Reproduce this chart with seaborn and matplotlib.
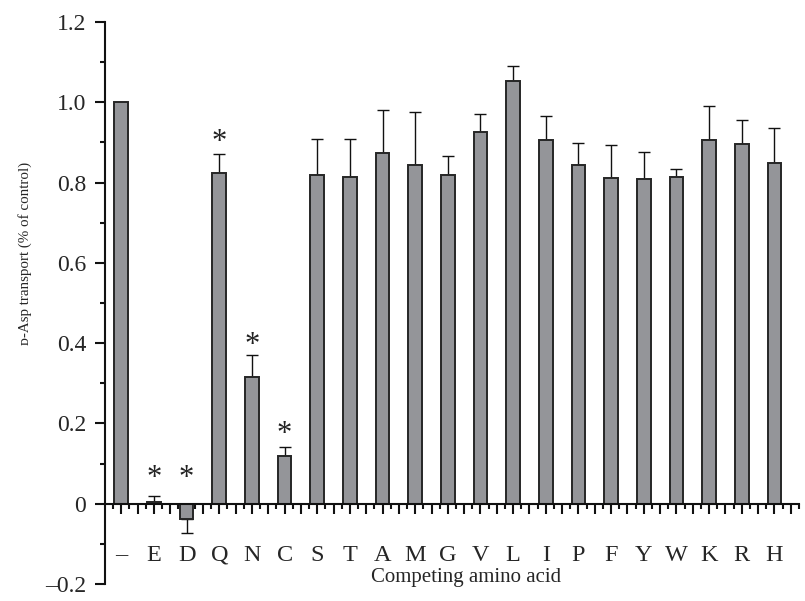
import matplotlib
matplotlib.use("Agg")
import matplotlib.pyplot as plt
import seaborn as sns
import numpy as np
import pandas as pd

# ---- data ----
categories = ["–", "E", "D", "Q", "N", "C", "S", "T", "A", "M", "G",
              "V", "L", "I", "P", "F", "Y", "W", "K", "R", "H"]
values = [1.000, 0.005, -0.037, 0.824, 0.316, 0.119, 0.818, 0.814, 0.873, 0.843, 0.818,
          0.927, 1.053, 0.906, 0.845, 0.811, 0.810, 0.813, 0.905, 0.896, 0.849]
errors = [0.000, 0.013, 0.036, 0.048, 0.055, 0.022, 0.091, 0.094, 0.107, 0.134, 0.048,
          0.044, 0.038, 0.059, 0.054, 0.082, 0.067, 0.022, 0.087, 0.060, 0.088]
star_cats = ["E", "D", "Q", "N", "C"]
star_y = [0.077, 0.077, 0.915, 0.409, 0.187]
ytick_vals = [-0.2, 0.0, 0.2, 0.4, 0.6, 0.8, 1.0, 1.2]
ytick_labels = ["–0.2", "0", "0.2", "0.4", "0.6", "0.8", "1.0", "1.2"]
xlabel = "Competing amino acid"
ylabel = "ᴅ-Asp transport (% of control)"

sns.set_style("ticks")
plt.rcParams['font.family'] = ['Liberation Serif', 'DejaVu Serif', 'DejaVu Sans']

df = pd.DataFrame({"aa": categories, "val": values, "err": errors})

fig = plt.figure(figsize=(8.05, 6.01), dpi=100)
ax = fig.add_axes([0.1304, 0.0283, 0.862, 0.935])

sns.barplot(data=df, x="aa", y="val", order=categories, color="#949599",
            saturation=1, width=0.42, edgecolor="#262626", linewidth=1.4,
            errorbar=None, ax=ax, zorder=2)

x = np.arange(len(categories))
vals = np.array(values)
errs = np.array(errors)
mask = errs > 0
lower = np.where(vals < 0, errs, 0.0)
upper = np.where(vals >= 0, errs, 0.0)
ax.errorbar(x[mask], vals[mask], yerr=[lower[mask], upper[mask]], fmt="none",
            ecolor="#111111", elinewidth=1.0, capsize=4.5, capthick=1.0, zorder=1)

# significance stars
for c, sy in zip(star_cats, star_y):
    xi = categories.index(c)
    ax.text(xi, sy - 0.034, "*", ha="center", va="baseline", fontsize=22,
            color="#222222")

ax.set_xlim(-0.5, 20.75)
ax.set_ylim(-0.2, 1.2)

for s in ["top", "right"]:
    ax.spines[s].set_visible(False)
ax.spines["bottom"].set_position(("data", 0))
ax.spines["left"].set_linewidth(1.5)
ax.spines["bottom"].set_linewidth(1.5)
ax.spines["left"].set_color("#111111")
ax.spines["bottom"].set_color("#111111")

# x ticks: long every half category, short every quarter
major_x = np.arange(0, 21, 0.5)
major_lbl = [categories[int(t)] if float(t).is_integer() else "" for t in major_x]
ax.set_xticks(major_x, major_lbl)
ax.set_xticks(np.arange(-0.25, 20.8, 0.5), minor=True)
ax.tick_params(axis="x", which="major", direction="out", length=7.5, width=1.5,
               labelsize=17.5, pad=22, color="#111111")
ax.tick_params(axis="x", which="minor", direction="out", length=3.5, width=1.5,
               color="#111111")

ax.set_yticks(ytick_vals, ytick_labels)
ax.set_yticks(np.arange(-0.1, 1.2, 0.2), minor=True)
ax.tick_params(axis="y", which="major", direction="out", length=7.5, width=1.5,
               labelsize=17, pad=6, color="#111111")
ax.tick_params(axis="y", which="minor", direction="out", length=3.5, width=1.5,
               color="#111111")

ax.set_xlabel(xlabel, fontsize=15)
ax.xaxis.set_label_coords(0.52, 0.011)
ax.xaxis.label.set_va("center")
ax.set_ylabel(ylabel, fontsize=10.8)
ax.yaxis.set_label_coords(-0.115, 0.589)
ax.yaxis.label.set_va("center")

fig.savefig("out.png", dpi=100)
